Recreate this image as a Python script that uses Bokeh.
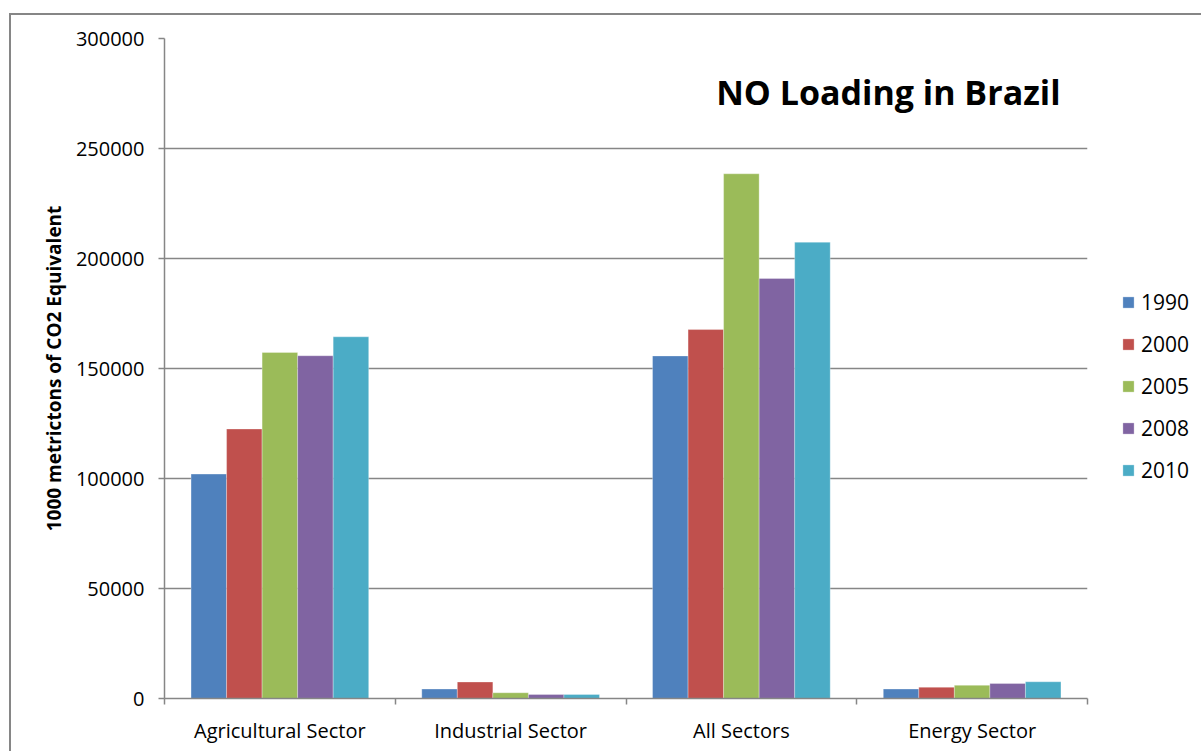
from bokeh.plotting import figure
from bokeh.models import (ColumnDataSource, FixedTicker, Legend, LegendItem,
                          Label, NumeralTickFormatter)
from bokeh.transform import dodge
from bokeh.embed import file_html
from bokeh.resources import INLINE

# Emissions by sector (1000 metric tons of CO2 equivalent)
categories = ["Agricultural Sector", "Industrial Sector", "All Sectors", "Energy Sector"]
years = ["1990", "2000", "2005", "2008", "2010"]
v1990 = [102000, 4300, 155700, 4300]
v2000 = [122500, 7500, 167700, 5100]
v2005 = [157300, 2600, 238500, 6000]
v2008 = [155800, 1800, 190900, 6800]
v2010 = [164400, 1800, 207400, 7600]
y_ticks = [0, 50000, 100000, 150000, 200000, 250000, 300000]

series = [v1990, v2000, v2005, v2008, v2010]
colors = ["#4F81BD", "#C0504D", "#9BBB59", "#8064A2", "#4BACC6"]
FONT = "Open Sans"
GRID = "#868686"

# each category occupies one unit on a numeric x axis; bars sit around its centre
centers = [i + 0.5 for i in range(len(categories))]
data = {"x": centers}
for yr, vals in zip(years, series):
    data[yr] = vals
source = ColumnDataSource(data)

p = figure(frame_width=923, frame_height=660,
           x_range=(0, len(categories)), y_range=(0, 300000),
           output_backend="svg", toolbar_location=None,
           min_border_left=153, min_border_top=23,
           min_border_bottom=53, min_border_right=114)
p.styles = {"position": "absolute", "left": "9px", "top": "13px",
            "border-left": "2px solid #868686", "border-top": "2px solid #868686"}
p.outline_line_color = None
p.background_fill_color = "white"
p.border_fill_color = "white"

bar_w = 0.154
offsets = [(-2 + k) * bar_w for k in range(len(years))]
items = []
for yr, col, off in zip(years, colors, offsets):
    r = p.vbar(x=dodge("x", off), top=yr, width=bar_w, source=source,
               fill_color=col, line_color="white", line_width=0.6, line_alpha=0.5)
    items.append(LegendItem(label=yr, renderers=[r]))

# x axis: boundary ticks as minor ticks, category names at the centres
xa = p.xaxis[0]
xa.ticker = FixedTicker(ticks=centers, minor_ticks=list(range(len(categories) + 1)))
xa.major_label_overrides = {c: name for c, name in zip(centers, categories)}
xa.major_tick_out = 0
xa.major_tick_in = 0
xa.minor_tick_out = 6
xa.minor_tick_in = 0
xa.minor_tick_line_color = GRID
xa.axis_line_color = GRID
xa.axis_line_width = 1.5
xa.minor_tick_line_width = 1.5
xa.major_label_text_font = FONT
xa.major_label_text_font_size = "20px"
xa.major_label_text_color = "black"
xa.major_label_standoff = 12

ya = p.yaxis[0]
ya.ticker = FixedTicker(ticks=y_ticks, minor_ticks=[])
ya.formatter = NumeralTickFormatter(format="0")
ya.major_tick_out = 6
ya.major_tick_in = 0
ya.major_tick_line_color = GRID
ya.major_tick_line_width = 1.5
ya.axis_line_color = GRID
ya.axis_line_width = 1.5
ya.major_label_text_font = FONT
ya.major_label_text_font_size = "20px"
ya.major_label_text_color = "black"
ya.major_label_standoff = 14
ya.axis_label = "1000 metrictons of CO2 Equivalent"
ya.axis_label_text_font = FONT
ya.axis_label_text_font_size = "19px"
ya.axis_label_text_font_style = "bold"
ya.axis_label_text_color = "black"
ya.axis_label_standoff = 6

p.xgrid.grid_line_color = None
p.ygrid.ticker = FixedTicker(ticks=y_ticks[1:])
p.ygrid.grid_line_color = GRID
p.ygrid.grid_line_width = 1.3

title = Label(x=3.883, y=275500, text="NO Loading in Brazil", text_align="right",
              text_baseline="alphabetic", text_font=FONT, text_font_size="34px",
              text_font_style="bold", text_color="black")
p.add_layout(title)

legend = Legend(items=items, location=(34, 214), orientation="vertical",
                glyph_width=14, glyph_height=14, label_height=14,
                label_standoff=6, spacing=14, padding=0, margin=0,
                border_line_color=None, background_fill_alpha=0,
                label_text_font=FONT, label_text_font_size="21px",
                label_text_color="black")
p.add_layout(legend, "right")

open("out.html", "w").write(file_html(p, INLINE))
